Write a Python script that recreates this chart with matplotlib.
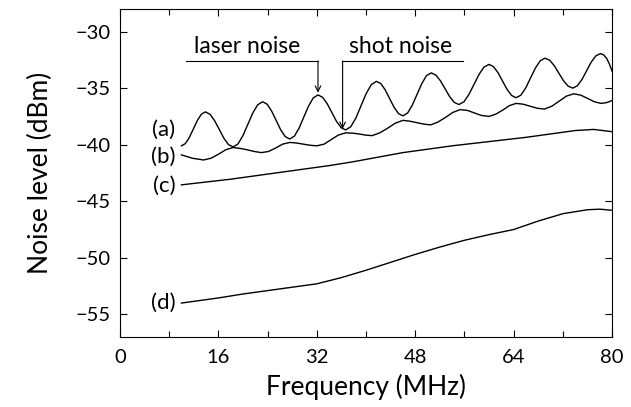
import matplotlib
matplotlib.use("Agg")
import matplotlib.pyplot as plt
import numpy as np

# curve (a): laser noise + shot noise, oscillating
freq_a = [10.0, 10.65, 11.3, 11.95, 12.6, 13.25, 13.9,
          14.65, 15.4, 16.15, 16.9, 17.65, 18.4,
          19.2, 20.0, 20.8, 21.6, 22.4, 23.2,
          23.93, 24.67, 25.4, 26.13, 26.87, 27.6,
          28.37, 29.13, 29.9, 30.67, 31.43, 32.2,
          32.95, 33.7, 34.45, 35.2, 35.95, 36.7,
          37.53, 38.37, 39.2, 40.03, 40.87, 41.7,
          42.42, 43.13, 43.85, 44.57, 45.28, 46.0,
          46.77, 47.53, 48.3, 49.07, 49.83, 50.6,
          51.35, 52.1, 52.85, 53.6, 54.35, 55.1,
          55.92, 56.73, 57.55, 58.37, 59.18, 60.0,
          60.73, 61.47, 62.2, 62.93, 63.67, 64.4,
          65.18, 65.97, 66.75, 67.53, 68.32, 69.1,
          69.85, 70.6, 71.35, 72.1, 72.85, 73.6,
          74.35, 75.1, 75.85, 76.6, 77.35, 78.1,
          78.6, 79.1, 79.55, 80.0]
level_a = [-40.1, -39.9, -39.35, -38.6, -37.85, -37.3, -37.1,
           -37.31, -37.88, -38.65, -39.43, -39.99, -40.2,
           -39.93, -39.2, -38.2, -37.2, -36.47, -36.2,
           -36.42, -37.03, -37.85, -38.68, -39.28, -39.5,
           -39.24, -38.53, -37.55, -36.58, -35.86, -35.6,
           -35.81, -36.38, -37.15, -37.93, -38.49, -38.7,
           -38.41, -37.63, -36.55, -35.48, -34.69, -34.4,
           -34.6, -35.16, -35.93, -36.69, -37.25, -37.45,
           -37.2, -36.5, -35.55, -34.6, -33.9, -33.65,
           -33.84, -34.35, -35.05, -35.75, -36.26, -36.45,
           -36.21, -35.56, -34.68, -33.79, -33.14, -32.9,
           -33.1, -33.64, -34.38, -35.11, -35.65, -35.85,
           -35.62, -34.98, -34.1, -33.23, -32.58, -32.35,
           -32.53, -33.01, -33.68, -34.34, -34.82, -35.0,
           -34.8, -34.24, -33.48, -32.71, -32.15, -31.95,
           -32.05, -32.35, -32.85, -33.5]

# curve (b)
freq_b = [10.0, 11.8, 13.6, 14.8, 16.0, 17.2, 18.4, 19.55, 20.7, 21.85, 23.0, 24.15,
          25.3, 26.45, 27.6, 28.7, 29.8, 30.9, 32.0, 33.2, 34.35, 35.5, 36.7,
          37.8, 38.85, 39.9, 41.0, 42.25, 43.5, 44.75, 46.0, 47.1, 48.25, 49.4, 50.5,
          51.7, 52.9, 54.1, 55.3, 56.5, 57.65, 58.8, 60.0, 61.1, 62.2, 63.3, 64.4,
          65.55, 66.7, 67.85, 69.0, 70.2, 71.4, 72.6, 73.8, 74.9, 76.0, 77.1, 78.2,
          79.1, 80.0]
level_b = [-40.9, -41.2, -41.35, -41.2, -40.85, -40.45, -40.25, -40.33, -40.45, -40.6, -40.7, -40.6,
           -40.3, -39.95, -39.8, -39.85, -39.95, -40.05, -40.1, -39.95, -39.55, -39.15, -38.95,
           -38.98, -39.05, -39.15, -39.2, -38.95, -38.55, -38.1, -37.85, -37.92, -38.05, -38.18, -38.25,
           -38.0, -37.6, -37.15, -36.9, -36.97, -37.2, -37.42, -37.5, -37.3, -36.95, -36.55, -36.35,
           -36.42, -36.6, -36.78, -36.85, -36.6, -36.15, -35.7, -35.5, -35.62, -35.9, -36.2, -36.35,
           -36.28, -36.1]

# curve (c)
freq_c = [10, 14, 18, 22, 26, 30, 34, 38, 42, 46, 50, 54, 58, 62, 66, 70, 74, 77, 80]
level_c = [-43.55, -43.3, -43.05, -42.75, -42.45, -42.15, -41.85, -41.5, -41.1, -40.7,
           -40.4, -40.1, -39.85, -39.6, -39.35, -39.05, -38.75, -38.65, -38.85]

# curve (d)
freq_d = [10, 16, 20, 24, 28, 32, 36, 40, 44, 48, 52, 56, 60, 64, 68, 72, 76, 78, 80]
level_d = [-54.0, -53.55, -53.2, -52.9, -52.6, -52.3, -51.75, -51.1, -50.4, -49.7,
           -49.05, -48.45, -47.95, -47.5, -46.75, -46.1, -45.75, -45.7, -45.8]

curve_names = ["(a)", "(b)", "(c)", "(d)"]
name_levels = [-38.7, -41.1, -43.6, -54.0]

x_ticks = [0, 16, 32, 48, 64, 80]
y_ticks = [-30, -35, -40, -45, -50, -55]

plt.rcParams['font.family'] = ['Lato', 'DejaVu Sans']

fig = plt.figure(figsize=(6.31, 4.07), dpi=100)
ax = fig.add_axes([0.190, 0.172, 0.780, 0.806])

for f, v in [(freq_a, level_a), (freq_b, level_b), (freq_c, level_c), (freq_d, level_d)]:
    ax.plot(f, v, color='k', lw=1.0)

for name, v in zip(curve_names, name_levels):
    ax.text(9.0, v, name, ha='right', va='center', fontsize=16, clip_on=False)

# annotations
ax.text(20.6, -31.3, "laser noise", ha='center', va='center', fontsize=16.5)
ax.plot([10.7, 32.2], [-32.6, -32.6], color='k', lw=0.8)
ax.annotate("", xy=(32.2, -35.4), xytext=(32.2, -32.6),
            arrowprops=dict(arrowstyle='->', lw=0.8, color='k', shrinkA=0, shrinkB=0))
ax.text(45.6, -31.3, "shot noise", ha='center', va='center', fontsize=16.5)
ax.plot([36.2, 55.7], [-32.6, -32.6], color='k', lw=0.8)
ax.annotate("", xy=(36.2, -38.6), xytext=(36.2, -32.6),
            arrowprops=dict(arrowstyle='->', lw=0.8, color='k', shrinkA=0, shrinkB=0))

ax.set_xlim(0, 80)
ax.set_ylim(-57, -28)
ax.set_xticks(x_ticks)
ax.set_xticks(np.arange(8, 80, 16), minor=True)
ax.set_yticks(y_ticks)
ax.tick_params(which='both', direction='in', top=True, right=True, labelsize=14.5, width=0.8)
ax.tick_params(which='major', length=5)
ax.tick_params(which='minor', length=4)
ax.tick_params(axis='x', pad=9)
ax.tick_params(axis='y', pad=7)
for s in ax.spines.values():
    s.set_linewidth(0.8)

ax.set_xlabel("Frequency (MHz)", fontsize=19, labelpad=5)
ax.set_ylabel("Noise level (dBm)", fontsize=19, labelpad=16)

fig.savefig("out.png", dpi=100)
